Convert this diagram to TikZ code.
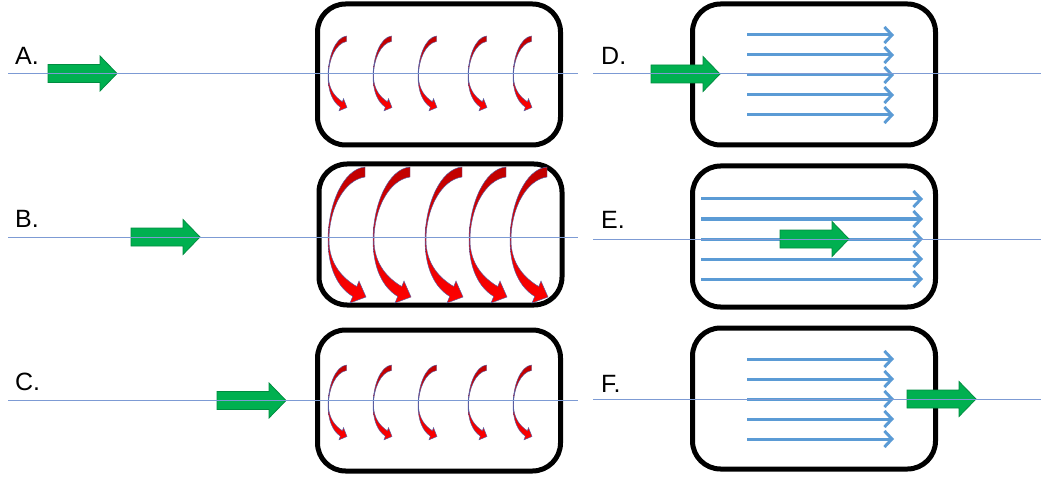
\documentclass[tikz,border=0pt]{standalone}
\usepackage{fontspec}
\setmainfont{Liberation Sans}
\usetikzlibrary{arrows.meta,positioning,calc}
\tikzset{>=latex}

\definecolor{flowgreen}{RGB}{0,176,80}
\definecolor{flowedge}{RGB}{0,140,64}
\definecolor{streamblue}{RGB}{91,155,213}
\definecolor{axisblue}{RGB}{125,155,212}
\definecolor{vortexdark}{RGB}{192,0,0}
\definecolor{vortexedge}{RGB}{85,95,165}

\tikzset{
  tank/.style={draw,line width=5pt,rounded corners=28pt,minimum width=243pt,minimum height=141pt,inner sep=0pt},
  tag/.style={anchor=base west,inner sep=0pt,font=\fontsize{25}{30}\selectfont},
  axisline/.style={color=axisblue,line width=1pt},
  stream/.style={color=streamblue,line width=3pt,-{Straight Barb[length=7.5pt,width=16pt]}},
  flow/.style={fill=flowgreen,draw=flowedge,line width=0.8pt},
  vortex/.style={top color=vortexdark,bottom color=red,draw=vortexedge,line width=0.45pt}
}

\newcommand{\flowarrow}[1]{%
  \path[flow] (#1) ++(0,-9) -- ++(52,0) -- ++(0,-8.5) -- ++(17,17.5) -- ++(-17,17.5) -- ++(0,-8.5) -- ++(-52,0) -- cycle;}

\newcommand{\vortexarrow}[4]{%
  \begin{scope}[shift={(#1,#2)},xscale=#3,yscale=#4]
  \path[vortex] (37,0) -- (37,10) .. controls (16,13) and (1,42) .. (1,73)
     .. controls (1,98) and (16,112) .. (28.75,119.5) -- (31,114) -- (38,130) -- (22,136) -- (24.7,129.4)
     .. controls (9,120) and (0,100) .. (0,73) .. controls (0,38) and (15,2) .. (37,0) -- cycle;
  \end{scope}}

\begin{document}
\begin{tikzpicture}[x=1pt,y=-1pt]
\useasboundingbox (0,0) rectangle (1041,481);

\node[tank] (boxA) at (439,74.5) {};
\node[tank] (boxB) at (440.5,234.5) {};
\node[tank] (boxC) at (439,400.5) {};
\node[tank] (boxD) at (814,74.5) {};
\node[tank] (boxE) at (814,236.5) {};
\node[tank] (boxF) at (814,398.5) {};

\node[tag] (A) at (15,65) {A.};
\node[tag] (B) at (15,228) {B.};
\node[tag] (C) at (15,390) {C.};
\node[tag] (D) at (601,65) {D.};
\node[tag] (E) at (601,229) {E.};
\node[tag] (F) at (601,392) {F.};

\foreach \x in {328,373,418,468,513} {
  \vortexarrow{\x}{36}{0.5}{0.55}
  \vortexarrow{\x}{365}{0.5}{0.55}
}
\foreach \x in {328,373,425,469,510} {
  \vortexarrow{\x}{167}{1}{1}
}

\foreach \dy in {-40,-20,0,20,40} {
  \draw[stream] (747,{75+\dy}) -- (894,{75+\dy});
  \draw[stream] (701,{239+\dy}) -- (923,{239+\dy});
  \draw[stream] (747,{399+\dy}) -- (894,{399+\dy});
}

\coordinate (gA) at (48,73.5);
\coordinate (gB) at (131,237);
\coordinate (gC) at (217,400.5);
\coordinate (gD) at (651,74);
\coordinate (gE) at (780,239);
\coordinate (gF) at (907,399);
\foreach \g in {gA,gB,gC,gD,gE,gF} {
  \flowarrow{\g}
}

\begin{scope}[axisline]
\draw (8,74) -- (578,74);
\draw (8,237) -- (578,237);
\draw (8,400) -- (578,400);
\draw (593,74) -- (1041,74);
\draw (593,239) -- (1041,239);
\draw (593,399) -- (1041,399);
\end{scope}

\end{tikzpicture}
\end{document}
